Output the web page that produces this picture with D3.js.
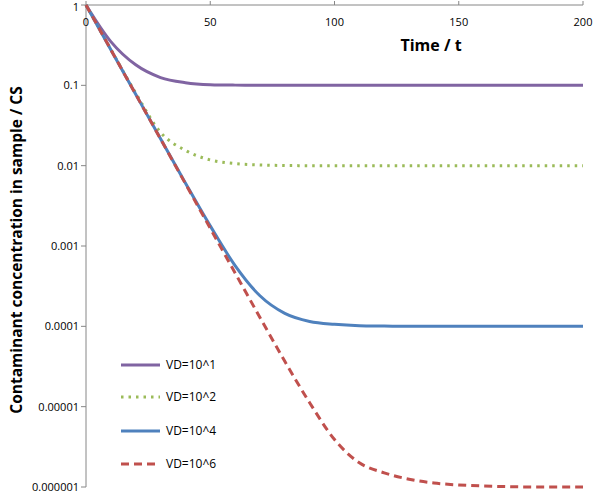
<!DOCTYPE html>
<html><head><meta charset="utf-8">
<script src="https://cdn.jsdelivr.net/npm/d3@7"></script>
<style>body{margin:0;background:#fff}text{font-family:"Open Sans",Arial,sans-serif}</style>
</head><body><div id="chart"></div>
<script>
const width = 598
const height = 501
// time points
const times = [0, 10, 20, 30, 40, 50, 60, 70, 80, 90, 100, 110, 120, 130, 140, 150, 160, 170, 180, 190, 200]
// series values
const vd1 = [1, 0.35, 0.18, 0.125, 0.108, 0.102, 0.1006, 0.1002, 0.1, 0.1, 0.1, 0.1, 0.1, 0.1, 0.1, 0.1, 0.1, 0.1, 0.1, 0.1, 0.1]
const vd2 = [1, 0.28, 0.08, 0.026, 0.0155, 0.0118, 0.0106, 0.0102, 0.01005, 0.01, 0.01, 0.01, 0.01, 0.01, 0.01, 0.01, 0.01, 0.01, 0.01, 0.01, 0.01]
const vd4 = [1, 0.278, 0.0774, 0.0216, 0.0061, 0.00178, 0.00057, 0.00024, 0.000145, 0.000115, 0.000106, 0.000102, 0.000101, 0.0001, 0.0001, 0.0001, 0.0001, 0.0001, 0.0001, 0.0001, 0.0001]
const vd6 = [1, 0.278, 0.0773, 0.0215, 0.00598, 0.00166, 0.000462, 0.000129, 0.0000367, 0.0000112, 0.0000039, 0.000002, 0.0000015, 0.00000125, 0.00000112, 0.00000106, 0.00000103, 0.00000101, 0.000001, 0.000001, 0.000001]
const seriesNames = ['VD=10^1', 'VD=10^2', 'VD=10^4', 'VD=10^6']
const xTicks = [0, 50, 100, 150, 200]
const yTicks = [1, 0.1, 0.01, 0.001, 0.0001, 0.00001, 0.000001]
const yTickLabels = ['1', '0.1', '0.01', '0.001', '0.0001', '0.00001', '0.000001']

const styles = [
  {color: '#8064A2', dash: null},
  {color: '#9BBB59', dash: '2.5,5'},
  {color: '#4F81BD', dash: null},
  {color: '#C0504D', dash: '8,5'}
]
const allSeries = [vd1, vd2, vd4, vd6]

const svg = d3.select('#chart').append('svg').attr('width', width).attr('height', height)
const x = d3.scaleLinear().domain([0, 200]).range([86, 583])
const y = d3.scaleLog().domain([0.000001, 1]).range([487, 5])

// axes
svg.append('line').attr('x1', 86).attr('x2', 583).attr('y1', 5).attr('y2', 5).attr('stroke', '#868686')
svg.append('line').attr('x1', 86).attr('x2', 86).attr('y1', 5).attr('y2', 487).attr('stroke', '#868686')
xTicks.forEach(t => {
  svg.append('line').attr('x1', x(t)).attr('x2', x(t)).attr('y1', 5).attr('y2', 1).attr('stroke', '#868686')
  svg.append('text').attr('x', x(t)).attr('y', 26).attr('text-anchor', 'middle').attr('font-size', 11).text(t)
})
yTicks.forEach((v, i) => {
  svg.append('line').attr('x1', 81).attr('x2', 86).attr('y1', y(v)).attr('y2', y(v)).attr('stroke', '#868686')
  svg.append('text').attr('x', 79).attr('y', Math.max(y(v) + 4, 11)).attr('text-anchor', 'end').attr('font-size', 11).text(yTickLabels[i])
})
svg.append('text').attr('x', 431).attr('y', 51).attr('text-anchor', 'middle')
  .attr('font-size', 16).attr('font-weight', 'bold').text('Time / t')
svg.append('text').attr('transform', 'translate(22,250) rotate(-90)').attr('text-anchor', 'middle')
  .attr('font-size', 15.5).attr('font-weight', 'bold').text('Contaminant  concentration in sample / CS')

const line = d3.line().x((d, i) => x(times[i])).y(d => y(d)).curve(d3.curveMonotoneX)
allSeries.forEach((s, k) => {
  svg.append('path').attr('d', line(s)).attr('fill', 'none')
    .attr('stroke', styles[k].color).attr('stroke-width', 3)
    .attr('stroke-dasharray', styles[k].dash)
})

// legend
const legendY = [365, 397, 431, 464]
seriesNames.forEach((n, k) => {
  svg.append('line').attr('x1', 121).attr('x2', 160).attr('y1', legendY[k]).attr('y2', legendY[k])
    .attr('stroke', styles[k].color).attr('stroke-width', 3).attr('stroke-dasharray', styles[k].dash)
  svg.append('text').attr('x', 166).attr('y', legendY[k] + 4).attr('font-size', 12).text(n)
})
</script></body></html>
